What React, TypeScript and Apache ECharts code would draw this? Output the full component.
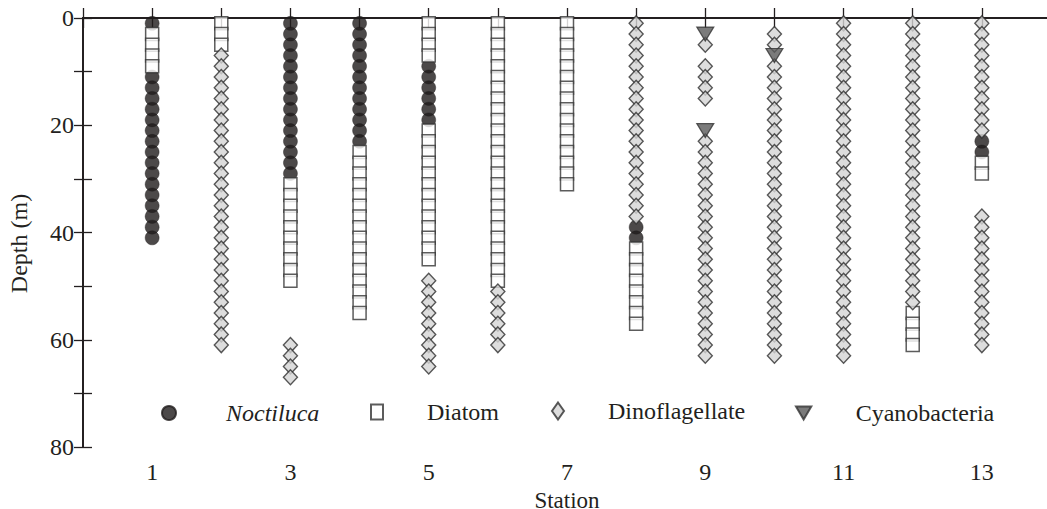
import React, { useEffect, useRef } from "react";
import * as echarts from "echarts";

// Station labels shown on the bottom axis
const stationTickLabels = [1, 3, 5, 7, 9, 11, 13];
// Depth labels shown on the left axis
const depthTickLabels = [0, 20, 40, 60, 80];

// [station, depths (m)] for each group
const noctiluca: [number, number[]][] = [
  [1, [1, 11, 13, 15, 17, 19, 21, 23, 25, 27, 29, 31, 33, 35, 37, 39, 41]],
  [3, [1, 3, 5, 7, 9, 11, 13, 15, 17, 19, 21, 23, 25, 27, 29]],
  [4, [1, 3, 5, 7, 9, 11, 13, 15, 17, 19, 21, 23]],
  [5, [9, 11, 13, 15, 17, 19]],
  [8, [39, 41]],
  [13, [23, 25]],
];

const diatom: [number, number[]][] = [
  [1, [3, 5, 7, 9]],
  [2, [1, 3, 5]],
  [3, [31, 33, 35, 37, 39, 41, 43, 45, 47, 49]],
  [4, [25, 27, 29, 31, 33, 35, 37, 39, 41, 43, 45, 47, 49, 51, 53, 55]],
  [5, [1, 3, 5, 7, 21, 23, 25, 27, 29, 31, 33, 35, 37, 39, 41, 43, 45]],
  [6, [1, 3, 5, 7, 9, 11, 13, 15, 17, 19, 21, 23, 25, 27, 29, 31, 33, 35, 37, 39, 41, 43, 45, 47, 49]],
  [7, [1, 3, 5, 7, 9, 11, 13, 15, 17, 19, 21, 23, 25, 27, 29, 31]],
  [8, [43, 45, 47, 49, 51, 53, 55, 57]],
  [12, [55, 57, 59, 61]],
  [13, [27, 29]],
];

const dinoflagellate: [number, number[]][] = [
  [2, [7, 9, 11, 13, 15, 17, 19, 21, 23, 25, 27, 29, 31, 33, 35, 37, 39, 41, 43, 45, 47, 49, 51, 53, 55, 57, 59, 61]],
  [3, [61, 63, 65, 67]],
  [5, [49, 51, 53, 55, 57, 59, 61, 63, 65]],
  [6, [51, 53, 55, 57, 59, 61]],
  [8, [1, 3, 5, 7, 9, 11, 13, 15, 17, 19, 21, 23, 25, 27, 29, 31, 33, 35, 37]],
  [9, [5, 9, 11, 13, 15, 23, 25, 27, 29, 31, 33, 35, 37, 39, 41, 43, 45, 47, 49, 51, 53, 55, 57, 59, 61, 63]],
  [10, [3, 5, 9, 11, 13, 15, 17, 19, 21, 23, 25, 27, 29, 31, 33, 35, 37, 39, 41, 43, 45, 47, 49, 51, 53, 55, 57, 59, 61, 63]],
  [11, [1, 3, 5, 7, 9, 11, 13, 15, 17, 19, 21, 23, 25, 27, 29, 31, 33, 35, 37, 39, 41, 43, 45, 47, 49, 51, 53, 55, 57, 59, 61, 63]],
  [12, [1, 3, 5, 7, 9, 11, 13, 15, 17, 19, 21, 23, 25, 27, 29, 31, 33, 35, 37, 39, 41, 43, 45, 47, 49, 51, 53]],
  [13, [1, 3, 5, 7, 9, 11, 13, 15, 17, 19, 21, 37, 39, 41, 43, 45, 47, 49, 51, 53, 55, 57, 59, 61]],
];

const cyanobacteria: [number, number[]][] = [
  [9, [3, 21]],
  [10, [7]],
];

const toPoints = (rows: [number, number[]][]) =>
  rows.flatMap(([s, depths]) => depths.map((d) => [s, d]));

const FONT = "Liberation Serif";
const INK = "#231f20";
const TRI = "path://M0,0L20,0L10,17Z";

const txt = (size: number, extra: Record<string, unknown> = {}) => ({
  fontFamily: FONT,
  fontSize: size,
  color: INK,
  ...extra,
});

export default function App() {
  const ref = useRef<HTMLDivElement>(null);

  useEffect(() => {
    if (!ref.current) return;
    const chart = echarts.init(ref.current, undefined, { renderer: "svg" });

    const axisLine = { show: true, lineStyle: { color: INK, width: 1.8 } };
    const tickStyle = { color: INK, width: 1.3 };

    chart.setOption({
      animation: false,
      grid: {
        left: 83,
        top: 18,
        width: 968,
        height: 429,
        containLabel: false,
        outerBoundsMode: "none",
      },
      xAxis: [
        {
          type: "value",
          position: "bottom",
          min: 0,
          max: 14,
          interval: 1,
          name: "Station",
          nameLocation: "middle",
          nameGap: 37,
          nameTextStyle: txt(23),
          axisLine,
          axisTick: { show: true, inside: true, length: 10, lineStyle: tickStyle },
          axisLabel: {
            ...txt(24),
            margin: 13,
            formatter: (v: number) => (stationTickLabels.includes(v) ? String(v) : ""),
          },
          splitLine: { show: false },
        },
        {
          type: "value",
          position: "top",
          min: 0,
          max: 14,
          interval: 1,
          axisLine,
          axisTick: { show: true, inside: true, length: 10, lineStyle: tickStyle },
          axisLabel: { show: false },
          splitLine: { show: false },
        },
      ],
      yAxis: [
        {
          type: "value",
          position: "left",
          inverse: true,
          min: 0,
          max: 80,
          interval: 10,
          name: "Depth (m)",
          nameLocation: "middle",
          nameGap: 52,
          nameTextStyle: txt(24, { padding: [0, 22, 0, 0] }),
          axisLine,
          axisTick: { show: true, inside: true, length: 9, lineStyle: tickStyle },
          axisLabel: {
            ...txt(24),
            margin: 9,
            formatter: (v: number) => (depthTickLabels.includes(v) ? String(v) : ""),
          },
          splitLine: { show: false },
        },
        {
          type: "value",
          position: "right",
          inverse: true,
          min: 0,
          max: 80,
          interval: 10,
          axisLine,
          axisTick: { show: true, inside: true, length: 9, lineStyle: tickStyle },
          axisLabel: { show: false },
          splitLine: { show: false },
        },
      ],
      legend: [
        {
          selectedMode: false,
          padding: 0,
          left: 161,
          top: 401,
          itemWidth: 14,
          itemHeight: 14,
          data: [{ name: "Noctiluca", icon: "circle" }],
          textStyle: txt(24, { fontStyle: "italic", padding: [0, 0, 0, 45] }),
        },
        {
          selectedMode: false,
          padding: 0,
          left: 370,
          top: 400,
          itemWidth: 12,
          itemHeight: 15,
          data: [{ name: "Diatom", icon: "rect" }],
          textStyle: txt(24, { padding: [0, 0, 0, 39] }),
        },
        {
          selectedMode: false,
          padding: 0,
          left: 551,
          top: 399,
          itemWidth: 12,
          itemHeight: 17,
          data: [{ name: "Dinoflagellate", icon: "diamond" }],
          textStyle: txt(24, { padding: [0, 0, 0, 39] }),
        },
        {
          selectedMode: false,
          padding: 0,
          left: 795,
          top: 401,
          itemWidth: 16,
          itemHeight: 13,
          data: [{ name: "Cyanobacteria", icon: TRI }],
          textStyle: txt(24, { padding: [0, 0, 0, 39] }),
        },
      ],
      series: [
        {
          name: "Noctiluca",
          type: "scatter",
          symbol: "circle",
          symbolSize: 14,
          itemStyle: { color: "#1f1b1c", borderColor: "#1f1b1c", borderWidth: 0.5 },
          data: toPoints(noctiluca),
        },
        {
          name: "Diatom",
          type: "scatter",
          symbol: "rect",
          symbolSize: 13,
          itemStyle: { color: "#ffffff", borderColor: "#333333", borderWidth: 1.5 },
          data: toPoints(diatom),
        },
        {
          name: "Dinoflagellate",
          type: "scatter",
          symbol: "diamond",
          symbolSize: [14, 15],
          itemStyle: { color: "#d4d4d4", borderColor: "#2e2e2e", borderWidth: 1.4 },
          data: toPoints(dinoflagellate),
        },
        {
          name: "Cyanobacteria",
          type: "scatter",
          symbol: TRI,
          symbolSize: [17, 14],
          itemStyle: { color: "#5a5a5a", borderColor: "#333333", borderWidth: 1.2 },
          data: toPoints(cyanobacteria),
        },
      ],
    });

    return () => chart.dispose();
  }, []);

  return (
    <div
      ref={ref}
      style={{ position: "absolute", left: 0, top: 0, width: 1047, height: 509 }}
    />
  );
}
